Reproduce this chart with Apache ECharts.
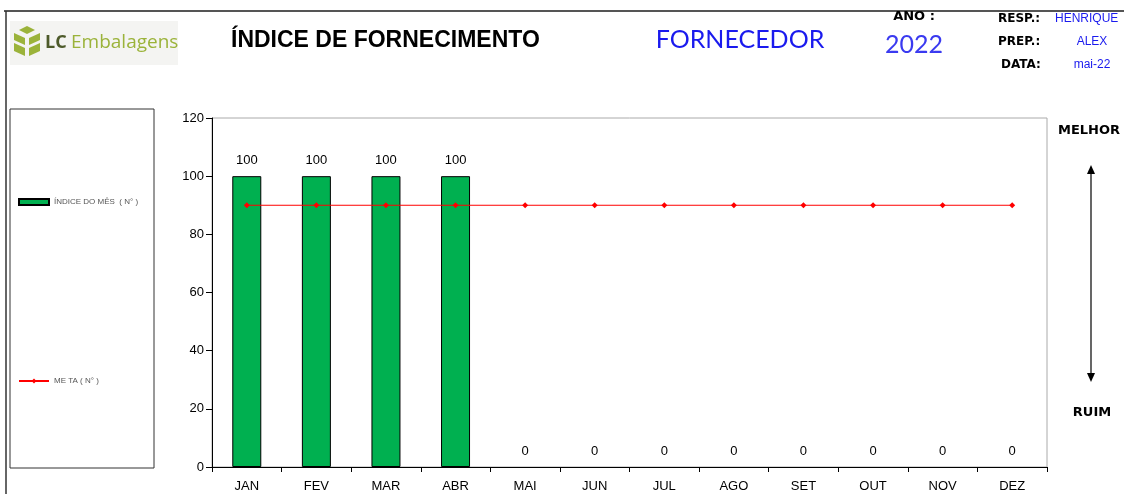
<!DOCTYPE html>
<html><head><meta charset="utf-8">
<script src="https://cdn.jsdelivr.net/npm/echarts@6/dist/echarts.min.js"></script>
<style>html,body{margin:0;padding:0;background:#fff;}#c{width:1124px;height:494px;}</style>
</head><body><div id="c"></div>
<script>
const categories = ['JAN','FEV','MAR','ABR','MAI','JUN','JUL','AGO','SET','OUT','NOV','DEZ'];
const indiceMes = [100,100,100,100,0,0,0,0,0,0,0,0];
const meta = [90,90,90,90,90,90,90,90,90,90,90,90];
const yTicks = {min:0, max:120, interval:20};
const seriesNames = ['ÍNDICE DO MÊS  ( N° )','ME TA ( N° )'];

const chart = echarts.init(document.getElementById('c'));
const F = '"Liberation Sans", Arial, sans-serif';
const W = '"DejaVu Sans", sans-serif';
const barData = indiceMes.map(v => v === 0 ? {value:v, itemStyle:{borderWidth:0}} : v);
chart.setOption({
  backgroundColor:'#fff',
  animation:false,
  grid:{left:212,right:77,top:118,bottom:27,show:true,borderColor:'#aaa',borderWidth:1},
  legend:{
    orient:'vertical', left:13, top:193, itemGap:171, itemWidth:30, itemHeight:6,
    textStyle:{fontSize:8,color:'#555',fontFamily:F}, selectedMode:false,
    data:[{name:seriesNames[0],icon:'rect'},{name:seriesNames[1]}]
  },
  xAxis:{type:'category',data:categories,boundaryGap:true,
    axisLine:{lineStyle:{color:'#000',width:1}},
    axisTick:{show:true,interval:0,length:5,lineStyle:{color:'#000'}},
    axisLabel:{fontSize:13,color:'#000',fontFamily:F,margin:13},
    splitLine:{show:false}},
  yAxis:{type:'value',min:yTicks.min,max:yTicks.max,interval:yTicks.interval,
    axisLine:{show:true,lineStyle:{color:'#000'}},
    axisTick:{show:true,length:6,lineStyle:{color:'#000'}},
    axisLabel:{fontSize:13,color:'#000',fontFamily:F,margin:8},
    splitLine:{show:false}},
  series:[
    {name:seriesNames[0],type:'bar',data:barData,barWidth:29,
     itemStyle:{color:'#00b050',borderColor:'#000',borderWidth:1},
     label:{show:true,position:'top',distance:9,fontSize:13,color:'#000',fontFamily:F}},
    {name:seriesNames[1],type:'line',data:meta,symbol:'diamond',symbolSize:6,
     lineStyle:{color:'#ff0000',width:1},itemStyle:{color:'#ff0000'}}
  ],
  graphic:[
    {type:'line',shape:{x1:4,y1:11,x2:1124,y2:11},style:{stroke:'#555',lineWidth:2}},
    {type:'line',shape:{x1:6,y1:11,x2:6,y2:494},style:{stroke:'#333',lineWidth:1.5}},
    {type:'rect',shape:{x:10,y:109,width:144,height:359},style:{fill:null,stroke:'#333',lineWidth:1}},
    // logo
    {type:'rect',shape:{x:10,y:21,width:168,height:44},style:{fill:'#f4f4f2'}},
    {type:'polygon',shape:{points:[[19,30],[27,26],[35,30],[27,34]]},style:{fill:'#9bb33a'}},
    {type:'polygon',shape:{points:[[14,33],[25,38],[25,45],[14,40]]},style:{fill:'#9bb33a'}},
    {type:'polygon',shape:{points:[[29,38],[40,33],[40,40],[29,45]]},style:{fill:'#9bb33a'}},
    {type:'polygon',shape:{points:[[14,43],[25,48],[25,56],[14,51]]},style:{fill:'#9bb33a'}},
    {type:'polygon',shape:{points:[[29,48],[40,43],[40,51],[29,56]]},style:{fill:'#9bb33a'}},
    {type:'text',x:45,y:43,style:{text:'LC',font:'bold 18px "Open Sans", sans-serif',fill:'#4d5a2a',textVerticalAlign:'middle'}},
    {type:'text',x:71,y:43,style:{text:'Embalagens',font:'19px "Open Sans", sans-serif',fill:'#9bb33a',textVerticalAlign:'middle'}},
    // header
    {type:'text',x:231,y:41,style:{text:'ÍNDICE DE FORNECIMENTO',font:'bold 23px '+F,fill:'#000',textVerticalAlign:'middle'}},
    {type:'text',x:740,y:40,style:{text:'FORNECEDOR',font:'25px "Lato", "Open Sans", sans-serif',fill:'#1a1aee',textAlign:'center',textVerticalAlign:'middle'}},
    {type:'text',x:914,y:17,style:{text:'ANO :',font:'bold 13px '+W,fill:'#000',textAlign:'center',textVerticalAlign:'middle'}},
    {type:'text',x:914,y:45,style:{text:'2022',font:'25px "Lato", "Open Sans", sans-serif',fill:'#3a3af0',textAlign:'center',textVerticalAlign:'middle'}},
    {type:'text',x:998,y:19,style:{text:'RESP.:',font:'bold 12px '+W,fill:'#000',textVerticalAlign:'middle'}},
    {type:'text',x:1055,y:19,style:{text:'HENRIQUE',font:'12px '+F,fill:'#1a1aee',textVerticalAlign:'middle'}},
    {type:'text',x:998,y:42,style:{text:'PREP.:',font:'bold 12px '+W,fill:'#000',textVerticalAlign:'middle'}},
    {type:'text',x:1092,y:42,style:{text:'ALEX',font:'12px '+F,fill:'#1a1aee',textAlign:'center',textVerticalAlign:'middle'}},
    {type:'text',x:1001,y:65,style:{text:'DATA:',font:'bold 12px '+W,fill:'#000',textVerticalAlign:'middle'}},
    {type:'text',x:1092,y:65,style:{text:'mai-22',font:'12px '+F,fill:'#1a1aee',textAlign:'center',textVerticalAlign:'middle'}},
    // right arrow
    {type:'text',x:1058,y:131,style:{text:'MELHOR',font:'bold 13px '+W,fill:'#000',textVerticalAlign:'middle'}},
    {type:'text',x:1092,y:413,style:{text:'RUIM',font:'bold 13px '+W,fill:'#000',textAlign:'center',textVerticalAlign:'middle'}},
    {type:'line',shape:{x1:1091,y1:172,x2:1091,y2:376},style:{stroke:'#000',lineWidth:1.2}},
    {type:'polygon',shape:{points:[[1091,165],[1087,174],[1095,174]]},style:{fill:'#000'}},
    {type:'polygon',shape:{points:[[1091,382],[1087,373],[1095,373]]},style:{fill:'#000'}}
  ]
});
</script></body></html>
